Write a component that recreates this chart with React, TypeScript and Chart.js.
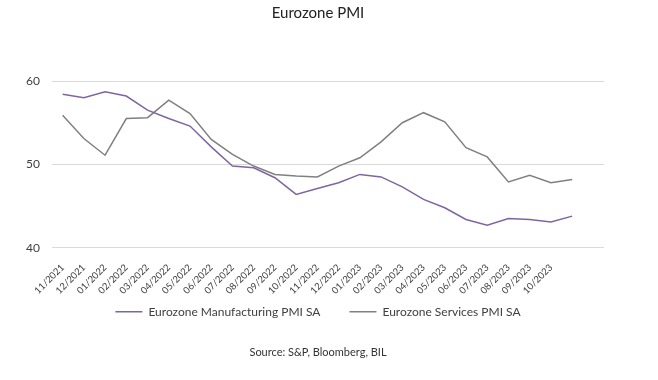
import React, { useEffect, useRef } from "react";
import { Chart, registerables } from "chart.js";

Chart.register(...registerables);

const categories = [
  "11/2021", "12/2021", "01/2022", "02/2022", "03/2022", "04/2022", "05/2022",
  "06/2022", "07/2022", "08/2022", "09/2022", "10/2022", "11/2022", "12/2022",
  "01/2023", "02/2023", "03/2023", "04/2023", "05/2023", "06/2023", "07/2023",
  "08/2023", "09/2023", "10/2023", "", "",
];

const manufacturing = [
  58.4, 58.0, 58.7, 58.2, 56.5, 55.5, 54.6, 52.1, 49.8, 49.6, 48.4, 46.4, 47.1,
  47.8, 48.8, 48.5, 47.3, 45.8, 44.8, 43.4, 42.7, 43.5, 43.4, 43.1, 43.8,
];

const services = [
  55.9, 53.1, 51.1, 55.5, 55.6, 57.7, 56.1, 53.0, 51.2, 49.8, 48.8, 48.6, 48.5,
  49.8, 50.8, 52.7, 55.0, 56.2, 55.1, 52.0, 50.9, 47.9, 48.7, 47.8, 48.2,
];

const yTicks = [40, 50, 60];

const FONT = "Lato, 'Open Sans', sans-serif";

// widen the label clipping areas after layout so the labels are not cut
const unclipLabels = {
  id: "unclipLabels",
  afterLayout(chart: any) {
    chart.scales.y.left = 0;
    chart.scales.x.bottom = chart.height;
  },
};

export default function App() {
  const ref = useRef<HTMLCanvasElement | null>(null);

  useEffect(() => {
    document.body.style.margin = "0";
    const canvas = ref.current;
    if (!canvas) return;
    const chart = new Chart(canvas, {
      type: "line",
      data: {
        labels: categories,
        datasets: [
          {
            label: "Eurozone Manufacturing PMI SA",
            data: manufacturing,
            borderColor: "#8064A2",
            backgroundColor: "#8064A2",
            borderWidth: 1.5,
            pointRadius: 0,
            pointStyle: "line",
            tension: 0,
          },
          {
            label: "Eurozone Services PMI SA",
            data: services,
            borderColor: "#808080",
            backgroundColor: "#808080",
            borderWidth: 1.5,
            pointRadius: 0,
            pointStyle: "line",
            tension: 0,
          },
        ],
      },
      plugins: [unclipLabels],
      options: {
        animation: false,
        responsive: false,
        layout: { padding: { left: 32, right: 54, top: 0, bottom: 0 } },
        plugins: {
          title: {
            display: true,
            text: "Eurozone PMI",
            color: "#222",
            font: { family: FONT, size: 15, weight: "normal" },
            padding: { top: 4, bottom: 59 },
          },
          legend: {
            position: "bottom",
            labels: {
              usePointStyle: true,
              pointStyleWidth: 27,
              color: "#404040",
              font: { family: FONT, size: 12 },
              padding: 29,
            },
          },
          subtitle: {
            display: true,
            position: "bottom",
            text: "Source: S&P, Bloomberg, BIL",
            color: "#333",
            font: { family: FONT, size: 11 },
            padding: { top: 17.6, bottom: 21.4 },
          },
          tooltip: { enabled: false },
        },
        scales: {
          x: {
            offset: true,
            grid: { display: false },
            border: { display: false },
            afterFit: (s: any) => {
              s.height = 29;
            },
            ticks: {
              autoSkip: false,
              maxRotation: 45,
              minRotation: 45,
              color: "#404040",
              font: { family: FONT, size: 9.5 },
              padding: 6,
            },
          },
          y: {
            min: 40,
            max: 60,
            afterBuildTicks: (s: any) => {
              s.ticks = yTicks.map((v) => ({ value: v }));
            },
            afterFit: (s: any) => {
              s.width = 20;
            },
            grid: { color: "#d9d9d9", drawTicks: false },
            border: { display: false },
            ticks: {
              color: "#404040",
              font: { family: FONT, size: 12 },
              padding: 12,
            },
          },
        },
      },
    });
    return () => chart.destroy();
  }, []);

  return (
    <div style={{ width: 658, height: 380 }}>
      <canvas ref={ref} width={658} height={380} />
    </div>
  );
}
